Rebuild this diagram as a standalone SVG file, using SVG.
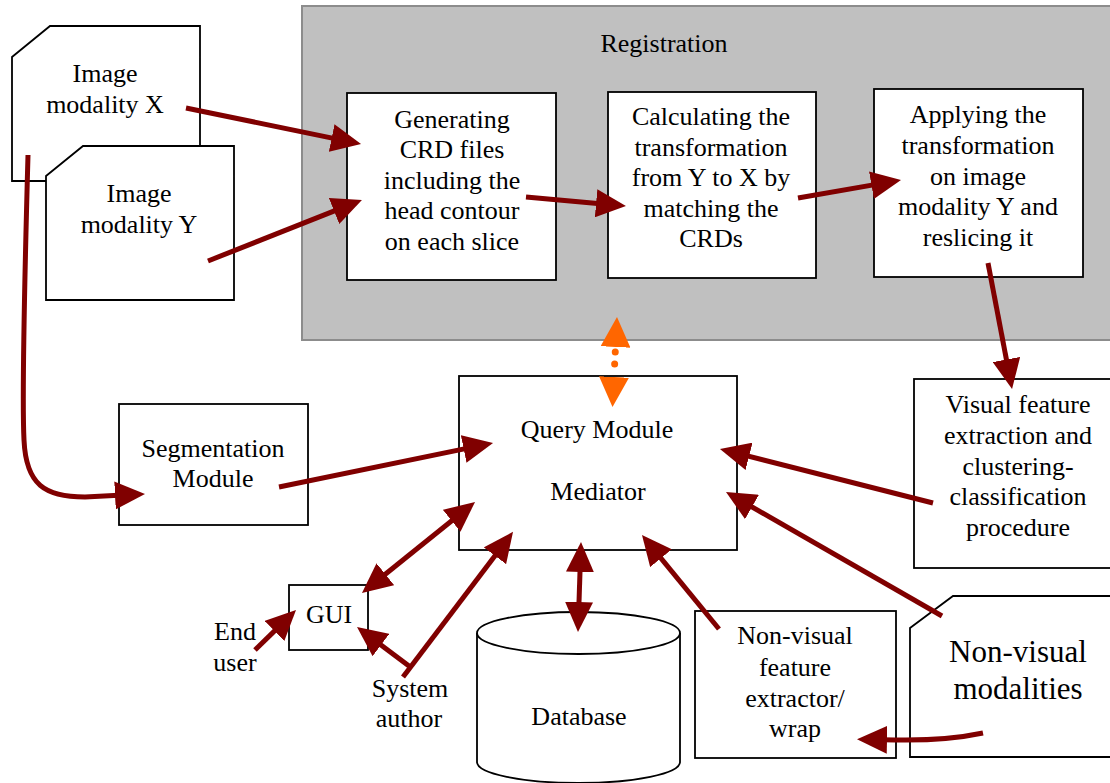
<svg xmlns="http://www.w3.org/2000/svg" width="1110" height="783" viewBox="0 0 1110 783">
<style>
.box{fill:#fff;stroke:#000;stroke-width:1.8}
.reg{fill:#c0c0c0;stroke:#8c8c8c;stroke-width:2}
text{font-family:"Liberation Serif","Times New Roman",serif;font-size:26px;fill:#000;text-anchor:middle}
.big{font-size:31px}
.arr{fill:none;stroke:#800000;stroke-width:5}
.dot{fill:none;stroke:#ff6600;stroke-width:7;stroke-linecap:round;stroke-dasharray:0 12 0 40;stroke-dashoffset:-5}
</style>
<defs>
<marker id="ah" viewBox="0 0 30 28" refX="18" refY="14" markerWidth="30" markerHeight="28" markerUnits="userSpaceOnUse" orient="auto-start-reverse">
<path d="M0,0 L30,14 L0,28 z" fill="#800000"/>
</marker>
<marker id="oh" viewBox="0 0 30 30" refX="0" refY="15" markerWidth="30" markerHeight="30" markerUnits="userSpaceOnUse" orient="auto-start-reverse">
<path d="M0,0 L30,15 L0,30 z" fill="#ff6600"/>
</marker>
</defs>

<g id="registration">
<rect class="reg" x="302" y="6" width="820" height="334"/>
<text x="664" y="52">Registration</text>
</g>

<g id="imageX">
<polygon class="box" points="12,57 50,26 200,26 200,181 12,181"/>
<text x="105" y="82">Image</text>
<text x="105" y="113">modality X</text>
</g>

<g id="imageY">
<polygon class="box" points="46,176 83,146 234,146 234,300 46,300"/>
<text x="139" y="202">Image</text>
<text x="139" y="233">modality Y</text>
</g>

<g id="crd">
<rect class="box" x="347" y="93" width="209" height="187"/>
<text x="452" y="128">Generating</text>
<text x="452" y="158">CRD files</text>
<text x="452" y="189">including the</text>
<text x="452" y="219">head contour</text>
<text x="452" y="250">on each slice</text>
</g>

<g id="calc">
<rect class="box" x="608" y="92" width="208" height="186"/>
<text x="711" y="125">Calculating the</text>
<text x="711" y="156">transformation</text>
<text x="711" y="186">from Y to X by</text>
<text x="711" y="217">matching the</text>
<text x="711" y="247">CRDs</text>
</g>

<g id="apply">
<rect class="box" x="874" y="89" width="209" height="188"/>
<text x="978" y="123">Applying the</text>
<text x="978" y="154">transformation</text>
<text x="978" y="185">on image</text>
<text x="978" y="215">modality Y and</text>
<text x="978" y="246">reslicing it</text>
</g>

<g id="visual">
<rect class="box" x="914" y="379" width="210" height="189"/>
<text x="1018" y="413">Visual feature</text>
<text x="1018" y="444">extraction and</text>
<text x="1018" y="475">clustering-</text>
<text x="1018" y="505">classification</text>
<text x="1018" y="536">procedure</text>
</g>

<g id="segmentation">
<rect class="box" x="119" y="404" width="189" height="121"/>
<text x="213" y="457">Segmentation</text>
<text x="213" y="487">Module</text>
</g>

<g id="query">
<rect class="box" x="459" y="376" width="278" height="174"/>
<text x="597" y="438">Query Module</text>
<text x="598" y="500">Mediator</text>
</g>

<g id="gui">
<rect class="box" x="289" y="585" width="79" height="65"/>
<text x="329" y="623">GUI</text>
</g>

<g id="enduser">
<text x="235" y="640">End</text>
<text x="235" y="671">user</text>
</g>

<g id="sysauthor">
<text x="410" y="697">System</text>
<text x="409" y="727">author</text>
</g>

<g id="database">
<path class="box" d="M477,633 L477,762 A101.5,21 0 0 0 680,762 L680,633"/>
<ellipse class="box" cx="578.5" cy="633" rx="101.5" ry="21"/>
<text x="579" y="725">Database</text>
</g>

<g id="nvextractor">
<rect class="box" x="695" y="611" width="201" height="147"/>
<text x="795" y="644">Non-visual</text>
<text x="795" y="676">feature</text>
<text x="795" y="707">extractor/</text>
<text x="795" y="737">wrap</text>
</g>

<g id="nvmodalities">
<polygon class="box" points="910,628 953,596 1120,596 1120,757 910,757"/>
<text class="big" x="1018" y="662">Non-visual</text>
<text class="big" x="1018" y="699">modalities</text>
</g>

<g id="connectors">
<line class="arr" x1="186" y1="108" x2="349.3" y2="141.6" marker-end="url(#ah)"/>
<line class="arr" x1="208" y1="261" x2="350.8" y2="204.4" marker-end="url(#ah)"/>
<line class="arr" x1="526" y1="197" x2="614" y2="204.9" marker-end="url(#ah)"/>
<line class="arr" x1="798" y1="198" x2="889.2" y2="182.1" marker-end="url(#ah)"/>
<line class="arr" x1="988" y1="263" x2="1009.8" y2="377.2" marker-end="url(#ah)"/>
<line class="arr" x1="279" y1="487" x2="481.3" y2="445.4" marker-end="url(#ah)"/>
<line class="arr" x1="933" y1="503" x2="731.6" y2="451.9" marker-end="url(#ah)"/>
<line class="arr" x1="942" y1="616" x2="736.4" y2="498" marker-end="url(#ah)"/>
<line class="arr" x1="719" y1="629" x2="649.6" y2="544.3" marker-end="url(#ah)"/>
<line class="arr" x1="580.6" y1="554" x2="578.4" y2="620" marker-start="url(#ah)" marker-end="url(#ah)"/>
<line class="arr" x1="465.7" y1="509.5" x2="371.3" y2="585.5" marker-start="url(#ah)" marker-end="url(#ah)"/>
<line class="arr" x1="403" y1="677" x2="505.8" y2="541.4" marker-end="url(#ah)"/>
<line class="arr" x1="409" y1="666" x2="366.6" y2="634.2" marker-end="url(#ah)"/>
<line class="arr" x1="255" y1="650" x2="287.4" y2="618.4" marker-end="url(#ah)"/>
<path class="arr" d="M983,733 Q945,741 895,740 L869,739.5" marker-end="url(#ah)"/>
<path class="arr" d="M28,155 C24,300 22,400 24,440 C26,485 45,497 85,497 L133,494.5" marker-end="url(#ah)"/>
<path class="dot" d="M615.5,347 L614,377"/>
<path d="M615.5,347 L614,377" fill="none" stroke="none" marker-start="url(#oh)" marker-end="url(#oh)"/>
</g>
</svg>
